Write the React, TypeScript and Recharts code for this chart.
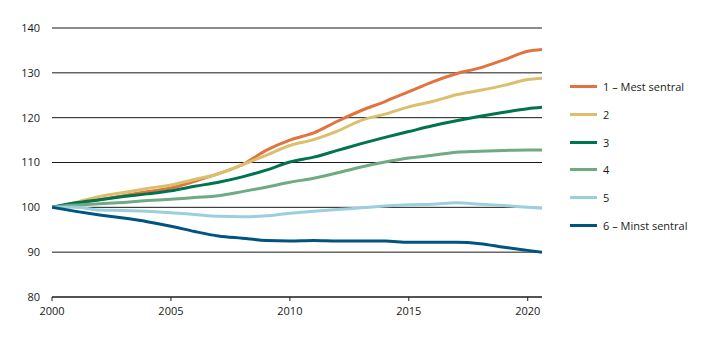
import React from "react";
import { LineChart, Line, XAxis, YAxis, CartesianGrid } from "recharts";

// Index, 2000 = 100
const years = [2000, 2001, 2002, 2003, 2004, 2005, 2006, 2007, 2008, 2009, 2010, 2011, 2012, 2013, 2014, 2015, 2016, 2017, 2018, 2019, 2020, 2020.6];

const mestSentral = [100, 100.8, 101.7, 102.6, 103.5, 104.3, 105.8, 107.5, 109.5, 112.7, 115.0, 116.6, 119.2, 121.6, 123.6, 125.8, 128.0, 129.8, 131.1, 132.9, 134.8, 135.2];
const gruppe2 = [100, 101.1, 102.4, 103.3, 104.2, 105.0, 106.2, 107.5, 109.5, 111.6, 113.8, 115.1, 117.0, 119.4, 120.8, 122.4, 123.6, 125.1, 126.1, 127.2, 128.5, 128.8];
const gruppe3 = [100, 101.0, 101.7, 102.4, 103.0, 103.7, 104.7, 105.6, 106.8, 108.3, 110.1, 111.2, 112.7, 114.2, 115.6, 116.9, 118.2, 119.3, 120.3, 121.2, 122.0, 122.3];
const gruppe4 = [100, 100.5, 100.8, 101.1, 101.5, 101.8, 102.2, 102.6, 103.5, 104.5, 105.6, 106.5, 107.7, 109.0, 110.1, 111.0, 111.6, 112.3, 112.5, 112.7, 112.8, 112.8];
const gruppe5 = [100, 100.0, 99.4, 99.3, 99.1, 98.8, 98.4, 98.0, 97.9, 98.1, 98.7, 99.1, 99.5, 99.9, 100.3, 100.6, 100.7, 101.0, 100.7, 100.4, 100.0, 99.8];
const minstSentral = [100, 99.1, 98.3, 97.6, 96.8, 95.8, 94.6, 93.6, 93.1, 92.6, 92.5, 92.6, 92.5, 92.5, 92.5, 92.2, 92.2, 92.2, 91.9, 91.1, 90.4, 90.0];

const yTicks = [80, 90, 100, 110, 120, 130, 140];
const xTicks = [2000, 2005, 2010, 2015, 2020];

const series = [
  { key: "s1", name: "1 – Mest sentral", color: "#E2733F", values: mestSentral },
  { key: "s2", name: "2", color: "#DCBF6C", values: gruppe2 },
  { key: "s3", name: "3", color: "#00734F", values: gruppe3 },
  { key: "s4", name: "4", color: "#6FAA80", values: gruppe4 },
  { key: "s5", name: "5", color: "#9BCFDE", values: gruppe5 },
  { key: "s6", name: "6 – Minst sentral", color: "#005480", values: minstSentral },
];

const data = years.map((year, i) => {
  const row: Record<string, number> = { year };
  series.forEach((s) => {
    row[s.key] = s.values[i];
  });
  return row;
});

const font = "'Open Sans', sans-serif";

function LegendList() {
  return (
    <div style={{ position: "absolute", left: 570, top: 73, fontFamily: font, fontSize: 11, color: "#1a1a1a" }}>
      {series.map((s) => (
        <div key={s.key} style={{ display: "flex", alignItems: "center", height: 27.7 }}>
          <span style={{ display: "inline-block", width: 27, height: 3, background: s.color, marginRight: 6 }} />
          <span>{s.name}</span>
        </div>
      ))}
    </div>
  );
}

export default function App() {
  return (
    <div style={{ position: "absolute", left: 0, top: 0, width: 719, height: 341, background: "#fff" }}>
      <LineChart width={719} height={341} data={data} margin={{ top: 28, right: 177, bottom: 0, left: 0 }}>
        <CartesianGrid vertical={false} stroke="#1a1a1a" strokeWidth={1} />
        <XAxis
          dataKey="year"
          type="number"
          domain={[2000, 2020.6]}
          ticks={xTicks}
          allowDataOverflow
          stroke="#1a1a1a"
          tickSize={4}
          tickMargin={6}
          height={44}
          tick={{ fill: "#1a1a1a", fontSize: 11, fontFamily: font }}
        />
        <YAxis
          domain={[80, 140]}
          ticks={yTicks}
          width={52}
          axisLine={false}
          tickLine={false}
          tickSize={0}
          tickMargin={12}
          tick={{ fill: "#1a1a1a", fontSize: 11, fontFamily: font }}
        />
        {series.map((s) => (
          <Line
            key={s.key}
            type="monotone"
            dataKey={s.key}
            name={s.name}
            stroke={s.color}
            strokeWidth={3}
            dot={false}
            isAnimationActive={false}
          />
        ))}
      </LineChart>
      <LegendList />
    </div>
  );
}
